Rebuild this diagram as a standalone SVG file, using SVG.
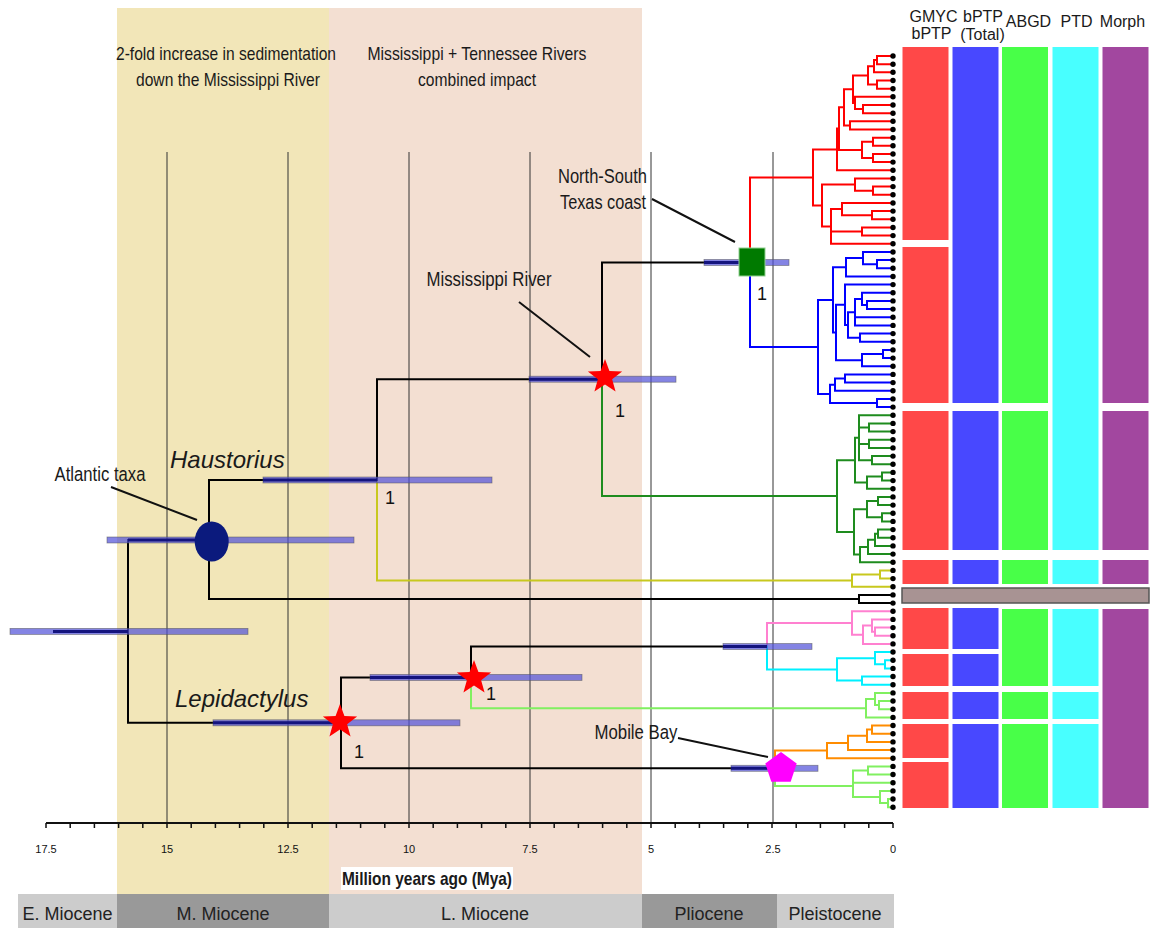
<svg xmlns="http://www.w3.org/2000/svg" width="1153" height="928" viewBox="0 0 1153 928">
<style>
.br{fill:none;stroke-width:2;stroke-linecap:square}
.grid{stroke:#333;stroke-width:1}
.hpd{fill:#5050d8;fill-opacity:0.7;stroke:#555;stroke-width:0.8;stroke-opacity:0.6}
.dk{stroke:#14147e;stroke-width:3;fill:none}
.tip{fill:#000}
.n{font-family:"Liberation Sans Narrow","Liberation Sans",Arial,sans-serif;fill:#1a1a1a}
.r{font-family:"Liberation Sans",Arial,sans-serif;fill:#1a1a1a}
.ax{font-family:"Liberation Sans",Arial,sans-serif;font-size:11px;fill:#111;text-anchor:middle}
.lead{stroke:#111;stroke-width:2;fill:none}
.one{font-family:"Liberation Sans",Arial,sans-serif;font-size:18px;fill:#111;text-anchor:middle}
.per{font-family:"Liberation Sans",Arial,sans-serif;font-size:18px;fill:#222;text-anchor:middle}
.col{font-family:"Liberation Sans",Arial,sans-serif;font-size:16px;fill:#1a1a1a;text-anchor:middle}
</style>
<defs>
<polygon id="star" points="0,-18 4.41,-6.07 17.12,-5.56 7.13,2.32 10.58,14.56 0,7.5 -10.58,14.56 -7.13,2.32 -17.12,-5.56 -4.41,-6.07" fill="#ff0000"/>
</defs>
<rect width="1153" height="928" fill="#ffffff"/>
<g id="background">
<rect x="117" y="8" width="212" height="886" fill="#f2e6b8"/>
<rect x="329" y="8" width="313" height="886" fill="#f3dfd2"/>
</g>
<g id="header-text">
<text class="n" font-size="19" text-anchor="middle" x="226" y="60" textLength="220" lengthAdjust="spacingAndGlyphs">2-fold increase in sedimentation</text>
<text class="n" font-size="19" text-anchor="middle" x="228" y="86" textLength="184" lengthAdjust="spacingAndGlyphs">down the Mississippi River</text>
<text class="n" font-size="19" text-anchor="middle" x="477" y="60" textLength="219" lengthAdjust="spacingAndGlyphs">Mississippi + Tennessee Rivers</text>
<text class="n" font-size="19" text-anchor="middle" x="477" y="86" textLength="118" lengthAdjust="spacingAndGlyphs">combined impact</text>
</g>
<g id="grid">
<path class="grid" d="M167 152V823 M288 152V823 M409 152V823 M530 152V823 M651 152V823 M773 152V823"/>
</g>
<g id="axis">
<path d="M46 823H893" stroke="#111" stroke-width="2" fill="none"/>
<path stroke="#111" stroke-width="1.5" fill="none" d="M893 823v5 M868.8 823v5 M844.6 823v5 M820.4 823v5 M796.2 823v5 M772 823v5 M747.8 823v5 M723.6 823v5 M699.4 823v5 M675.2 823v5 M651 823v5 M626.8 823v5 M602.6 823v5 M578.4 823v5 M554.2 823v5 M530 823v5 M505.8 823v5 M481.6 823v5 M457.4 823v5 M433.2 823v5 M409 823v5 M384.8 823v5 M360.6 823v5 M336.4 823v5 M312.2 823v5 M288 823v5 M263.8 823v5 M239.6 823v5 M215.4 823v5 M191.2 823v5 M167 823v5 M142.8 823v5 M118.6 823v5 M94.4 823v5 M70.2 823v5 M46 823v5"/>
<text class="ax" x="46" y="853">17.5</text>
<text class="ax" x="167" y="853">15</text>
<text class="ax" x="288" y="853">12.5</text>
<text class="ax" x="409" y="853">10</text>
<text class="ax" x="530" y="853">7.5</text>
<text class="ax" x="651" y="853">5</text>
<text class="ax" x="773" y="853">2.5</text>
<text class="ax" x="893" y="853">0</text>
<rect x="341" y="867" width="172" height="23" fill="#ffffff"/>
<text class="n" font-size="19" font-weight="bold" text-anchor="middle" x="427" y="885" textLength="170" lengthAdjust="spacingAndGlyphs">Million years ago (Mya)</text>
</g>
<g id="periods">
<rect x="18" y="894" width="99" height="34" fill="#cccccc"/>
<rect x="117" y="894" width="212" height="34" fill="#999999"/>
<rect x="329" y="894" width="313" height="34" fill="#cccccc"/>
<rect x="642" y="894" width="135" height="34" fill="#999999"/>
<rect x="777" y="894" width="117" height="34" fill="#cccccc"/>
<text class="per" x="67.5" y="920">E. Miocene</text>
<text class="per" x="223" y="920">M. Miocene</text>
<text class="per" x="485" y="920">L. Miocene</text>
<text class="per" x="709" y="920">Pliocene</text>
<text class="per" x="835" y="920">Pleistocene</text>
</g>
<g id="connectors">
<path class="br" stroke="#ff0000" d="M877 56H893 M877 64.2H893 M874 72.3H893 M877 80.5H893 M877 88.7H893 M855 96.8H893 M863 105H893 M863 113.2H893 M850 121.3H893 M850 129.5H893 M873 137.7H893 M873 145.8H893 M873 154H893 M873 162.1H893 M837 170.3H893 M855 178.5H893 M873 186.6H893 M873 194.8H893 M842 203H893 M872 211.1H893 M872 219.3H893 M862 227.5H893 M862 235.6H893 M831 243.8H893 M877 56V64.2 M874 60.1H877 M874 60.1V72.3 M868 66.2H874 M877 80.5V88.7 M868 84.6H877 M868 66.2V84.6 M853 75.4H868 M863 105V113.2 M855 109.1H863 M855 96.8V109.1 M853 103H855 M853 75.4V103 M844 89.2H853 M850 121.3V129.5 M844 125.4H850 M844 89.2V125.4 M839 107.3H844 M873 137.7V145.8 M862 141.8H873 M873 154V162.1 M862 158H873 M862 141.8V158 M839 149.9H862 M839 107.3V149.9 M837 128.6H839 M837 128.6V170.3 M813 149.5H837 M873 186.6V194.8 M855 190.7H873 M855 178.5V190.7 M822 184.6H855 M872 211.1V219.3 M842 215.2H872 M842 203V215.2 M831 209.1H842 M862 227.5V235.6 M831 231.6H862 M831 209.1V243.8 M822 226.5H831 M822 184.6V226.5 M813 205.5H822 M813 149.5V205.5 M750 177.5H813 M750 177.5V262.5"/>
<path class="br" stroke="#0000ff" d="M863 252H893 M877 260.1H893 M877 268.3H893 M846 276.5H893 M845 284.6H893 M862 292.8H893 M867 300.9H893 M867 309.1H893 M855 317.3H893 M855 325.4H893 M860 333.6H893 M860 341.8H893 M883 349.9H893 M883 358.1H893 M862 366.3H893 M845 374.4H893 M845 382.6H893 M835 390.8H893 M877 398.9H893 M877 407.1H893 M877 260.1V268.3 M863 264.2H877 M863 252V264.2 M846 258.1H863 M846 258.1V276.5 M833 267.3H846 M867 300.9V309.1 M862 305H867 M862 292.8V305 M855 298.9H862 M855 298.9V325.4 M848 312.2H855 M860 333.6V341.8 M848 337.7H860 M848 312.2V337.7 M845 325H848 M845 284.6V325 M836 304.8H845 M883 349.9V358.1 M862 354H883 M862 354V366.3 M836 360.2H862 M836 304.8V360.2 M833 332.5H836 M833 267.3V332.5 M818 299.9H833 M845 374.4V382.6 M835 378.5H845 M835 378.5V390.8 M830 384.7H835 M877 398.9V407.1 M830 403H877 M830 384.7V403 M818 393.9H830 M818 299.9V393.9 M750 347H818 M750 262.5V347"/>
<path class="br" stroke="#1e8c1e" d="M859 415.3H893 M869 423.4H893 M869 431.6H893 M869 439.8H893 M869 447.9H893 M872 456.1H893 M872 464.3H893 M882 472.4H893 M882 480.6H893 M867 488.7H893 M878 496.9H893 M878 505.1H893 M882 513.2H893 M882 521.4H893 M878 529.6H893 M878 537.7H893 M875 545.9H893 M868 554.1H893 M860 562.2H893 M869 423.4V431.6 M859 427.5H869 M869 439.8V447.9 M859 443.9H869 M872 456.1V464.3 M859 460.2H872 M859 415.3V460.2 M855 437.8H859 M882 472.4V480.6 M867 476.5H882 M867 476.5V488.7 M855 482.6H867 M855 437.8V482.6 M837 460.2H855 M878 496.9V505.1 M867 501H878 M882 513.2V521.4 M867 517.3H882 M867 501V517.3 M854 509.2H867 M878 529.6V537.7 M875 533.7H878 M875 533.7V545.9 M868 539.8H875 M868 539.8V554.1 M860 547H868 M860 547V562.2 M854 554.6H860 M854 509.2V554.6 M837 531.9H854 M837 460.2V531.9 M602 496H837 M602 379.2V496"/>
<path class="br" stroke="#c8c81e" d="M880 570.4H893 M880 578.6H893 M852 586.7H893 M880 570.4V578.6 M852 574.5H880 M852 574.5V586.7 M377 580.6H852 M377 480V580.6"/>
<path class="br" stroke="#000000" d="M859 594.9H893 M859 603.1H893 M859 594.9V603.1 M209 599H859 M209 480V599 M128 540H209 M209 480H377 M377 379.2V480 M377 379.2H602 M602 262.5V379.2 M602 262.5H750 M128 540V722.8 M128 722.8H341 M341 677.4V768.3 M341 677.4H471 M471 646.5V677.4 M471 646.5H767 M341 768.3H775"/>
<path class="br" stroke="#ff80d0" d="M852 611.2H893 M872 619.4H893 M875 627.6H893 M875 635.7H893 M863 643.9H893 M875 627.6V635.7 M872 631.7H875 M872 619.4V631.7 M863 625.5H872 M863 625.5V643.9 M852 634.7H863 M852 611.2V634.7 M767 623H852 M767 623V646.5"/>
<path class="br" stroke="#00f0ff" d="M875 652H893 M885 660.2H893 M885 668.4H893 M862 676.5H893 M862 684.7H893 M885 660.2V668.4 M875 664.3H885 M875 652V664.3 M837 658.2H875 M862 676.5V684.7 M837 680.6H862 M837 658.2V680.6 M767 669.4H837 M767 646.5V669.4"/>
<path class="br" stroke="#80f060" d="M875 692.9H893 M879 701H893 M879 709.2H893 M866 717.4H893 M879 701V709.2 M875 705.1H879 M875 692.9V705.1 M866 699H875 M866 699V717.4 M471 708.2H866 M471 677.4V708.2 M868 766.4H893 M868 774.5H893 M853 782.7H893 M880 790.9H893 M888 799H893 M888 807.2H893 M868 766.4V774.5 M853 770.5H868 M888 799V807.2 M880 803.1H888 M880 790.9V803.1 M853 797H880 M853 770.5V797 M775 786H853 M775 768.3V786"/>
<path class="br" stroke="#ff8c00" d="M872 725.5H893 M872 733.7H893 M867 741.9H893 M848 750H893 M827 758.2H893 M872 725.5V733.7 M867 729.6H872 M867 729.6V741.9 M848 735.8H867 M848 735.8V750 M827 742.9H848 M827 742.9V758.2 M775 750.6H827 M775 750.6V768.3"/>
</g>
<g id="hpd-bars">
<rect class="hpd" x="10" y="628.4" width="238" height="6"/>
<rect class="hpd" x="107" y="537" width="247" height="6"/>
<rect class="hpd" x="263" y="477" width="229" height="6"/>
<rect class="hpd" x="529" y="376.2" width="147" height="6"/>
<rect class="hpd" x="704" y="259.5" width="85" height="6"/>
<rect class="hpd" x="213" y="719.8" width="247" height="6"/>
<rect class="hpd" x="370" y="674.4" width="212" height="6"/>
<rect class="hpd" x="723" y="643.5" width="89" height="6"/>
<rect class="hpd" x="731" y="765.3" width="87" height="6"/>
<path class="dk" d="M53 631.4H128 M128 540H209 M263 480H377 M529 379.2H602 M704 262.5H750 M213 722.8H341 M370 677.4H471 M723 646.5H767 M731 768.3H775"/>
</g>
<g id="tips">
<circle class="tip" cx="893" cy="56" r="2.7"/><circle class="tip" cx="893" cy="64.2" r="2.7"/><circle class="tip" cx="893" cy="72.3" r="2.7"/><circle class="tip" cx="893" cy="80.5" r="2.7"/><circle class="tip" cx="893" cy="88.7" r="2.7"/><circle class="tip" cx="893" cy="96.8" r="2.7"/><circle class="tip" cx="893" cy="105" r="2.7"/><circle class="tip" cx="893" cy="113.2" r="2.7"/><circle class="tip" cx="893" cy="121.3" r="2.7"/><circle class="tip" cx="893" cy="129.5" r="2.7"/>
<circle class="tip" cx="893" cy="137.7" r="2.7"/><circle class="tip" cx="893" cy="145.8" r="2.7"/><circle class="tip" cx="893" cy="154" r="2.7"/><circle class="tip" cx="893" cy="162.1" r="2.7"/><circle class="tip" cx="893" cy="170.3" r="2.7"/><circle class="tip" cx="893" cy="178.5" r="2.7"/><circle class="tip" cx="893" cy="186.6" r="2.7"/><circle class="tip" cx="893" cy="194.8" r="2.7"/><circle class="tip" cx="893" cy="203" r="2.7"/><circle class="tip" cx="893" cy="211.1" r="2.7"/>
<circle class="tip" cx="893" cy="219.3" r="2.7"/><circle class="tip" cx="893" cy="227.5" r="2.7"/><circle class="tip" cx="893" cy="235.6" r="2.7"/><circle class="tip" cx="893" cy="243.8" r="2.7"/><circle class="tip" cx="893" cy="252" r="2.7"/><circle class="tip" cx="893" cy="260.1" r="2.7"/><circle class="tip" cx="893" cy="268.3" r="2.7"/><circle class="tip" cx="893" cy="276.5" r="2.7"/><circle class="tip" cx="893" cy="284.6" r="2.7"/><circle class="tip" cx="893" cy="292.8" r="2.7"/>
<circle class="tip" cx="893" cy="300.9" r="2.7"/><circle class="tip" cx="893" cy="309.1" r="2.7"/><circle class="tip" cx="893" cy="317.3" r="2.7"/><circle class="tip" cx="893" cy="325.4" r="2.7"/><circle class="tip" cx="893" cy="333.6" r="2.7"/><circle class="tip" cx="893" cy="341.8" r="2.7"/><circle class="tip" cx="893" cy="349.9" r="2.7"/><circle class="tip" cx="893" cy="358.1" r="2.7"/><circle class="tip" cx="893" cy="366.3" r="2.7"/><circle class="tip" cx="893" cy="374.4" r="2.7"/>
<circle class="tip" cx="893" cy="382.6" r="2.7"/><circle class="tip" cx="893" cy="390.8" r="2.7"/><circle class="tip" cx="893" cy="398.9" r="2.7"/><circle class="tip" cx="893" cy="407.1" r="2.7"/><circle class="tip" cx="893" cy="415.3" r="2.7"/><circle class="tip" cx="893" cy="423.4" r="2.7"/><circle class="tip" cx="893" cy="431.6" r="2.7"/><circle class="tip" cx="893" cy="439.8" r="2.7"/><circle class="tip" cx="893" cy="447.9" r="2.7"/><circle class="tip" cx="893" cy="456.1" r="2.7"/>
<circle class="tip" cx="893" cy="464.3" r="2.7"/><circle class="tip" cx="893" cy="472.4" r="2.7"/><circle class="tip" cx="893" cy="480.6" r="2.7"/><circle class="tip" cx="893" cy="488.7" r="2.7"/><circle class="tip" cx="893" cy="496.9" r="2.7"/><circle class="tip" cx="893" cy="505.1" r="2.7"/><circle class="tip" cx="893" cy="513.2" r="2.7"/><circle class="tip" cx="893" cy="521.4" r="2.7"/><circle class="tip" cx="893" cy="529.6" r="2.7"/><circle class="tip" cx="893" cy="537.7" r="2.7"/>
<circle class="tip" cx="893" cy="545.9" r="2.7"/><circle class="tip" cx="893" cy="554.1" r="2.7"/><circle class="tip" cx="893" cy="562.2" r="2.7"/><circle class="tip" cx="893" cy="570.4" r="2.7"/><circle class="tip" cx="893" cy="578.6" r="2.7"/><circle class="tip" cx="893" cy="586.7" r="2.7"/><circle class="tip" cx="893" cy="594.9" r="2.7"/><circle class="tip" cx="893" cy="603.1" r="2.7"/><circle class="tip" cx="893" cy="611.2" r="2.7"/><circle class="tip" cx="893" cy="619.4" r="2.7"/>
<circle class="tip" cx="893" cy="627.6" r="2.7"/><circle class="tip" cx="893" cy="635.7" r="2.7"/><circle class="tip" cx="893" cy="643.9" r="2.7"/><circle class="tip" cx="893" cy="652" r="2.7"/><circle class="tip" cx="893" cy="660.2" r="2.7"/><circle class="tip" cx="893" cy="668.4" r="2.7"/><circle class="tip" cx="893" cy="676.5" r="2.7"/><circle class="tip" cx="893" cy="684.7" r="2.7"/><circle class="tip" cx="893" cy="692.9" r="2.7"/><circle class="tip" cx="893" cy="701" r="2.7"/>
<circle class="tip" cx="893" cy="709.2" r="2.7"/><circle class="tip" cx="893" cy="717.4" r="2.7"/><circle class="tip" cx="893" cy="725.5" r="2.7"/><circle class="tip" cx="893" cy="733.7" r="2.7"/><circle class="tip" cx="893" cy="741.9" r="2.7"/><circle class="tip" cx="893" cy="750" r="2.7"/><circle class="tip" cx="893" cy="758.2" r="2.7"/><circle class="tip" cx="893" cy="766.4" r="2.7"/><circle class="tip" cx="893" cy="774.5" r="2.7"/><circle class="tip" cx="893" cy="782.7" r="2.7"/>
<circle class="tip" cx="893" cy="790.9" r="2.7"/><circle class="tip" cx="893" cy="799" r="2.7"/><circle class="tip" cx="893" cy="807.2" r="2.7"/>
</g>
<g id="node-atlantic">
<ellipse cx="211.7" cy="541.5" rx="17" ry="20" fill="#0b1a7d"/>
</g>
<g id="node-mississippi">
<use href="#star" x="605" y="377"/>
</g>
<g id="node-lepidactylus-1">
<use href="#star" x="474" y="678"/>
</g>
<g id="node-lepidactylus-root">
<use href="#star" x="340" y="722"/>
</g>
<g id="node-texas">
<rect x="739" y="248" width="26" height="28" fill="#007a00" stroke="#8fcf8f" stroke-width="1"/>
</g>
<g id="node-mobile">
<polygon transform="translate(781,768.5)" points="0,-16.5 15.69,-5.1 9.7,13.35 -9.7,13.35 -15.69,-5.1" fill="#ff00ff"/>
</g>
<g id="support-labels">
<text class="one" x="762" y="300">1</text>
<text class="one" x="620" y="417">1</text>
<text class="one" x="390" y="504">1</text>
<text class="one" x="491" y="700">1</text>
<text class="one" x="359" y="758">1</text>
</g>
<g id="annotations">
<path class="lead" d="M111 487L197 520 M519 302L590 357 M652 199L735 242 M678 738L768 757"/>
<text class="n" font-size="20.5" text-anchor="middle" x="100" y="481" textLength="91" lengthAdjust="spacingAndGlyphs">Atlantic taxa</text>
<text class="n" font-size="20.5" text-anchor="middle" x="489" y="286" textLength="125" lengthAdjust="spacingAndGlyphs">Mississippi River</text>
<text class="n" font-size="20.5" text-anchor="end" x="647" y="183" textLength="89" lengthAdjust="spacingAndGlyphs">North-South</text>
<text class="n" font-size="20.5" text-anchor="end" x="646" y="209" textLength="86" lengthAdjust="spacingAndGlyphs">Texas coast</text>
<text class="n" font-size="20.5" text-anchor="middle" x="636" y="739" textLength="83" lengthAdjust="spacingAndGlyphs">Mobile Bay</text>
<text class="r" font-size="24" font-style="italic" x="170" y="468">Haustorius</text>
<text class="r" font-size="24" font-style="italic" x="175" y="707">Lepidactylus</text>
</g>
<g id="delimitation">
<g fill="#ff4848">
<rect x="902.5" y="47" width="46" height="193"/>
<rect x="902.5" y="247" width="46" height="156"/>
<rect x="902.5" y="411" width="46" height="139"/>
<rect x="902.5" y="560" width="46" height="24"/>
<rect x="902.5" y="608" width="46" height="41"/>
<rect x="902.5" y="654" width="46" height="32"/>
<rect x="902.5" y="692" width="46" height="27"/>
<rect x="902.5" y="724" width="46" height="34"/>
<rect x="902.5" y="762" width="46" height="46"/>
</g>
<g fill="#4848ff">
<rect x="952.5" y="47" width="46" height="356"/>
<rect x="952.5" y="411" width="46" height="139"/>
<rect x="952.5" y="560" width="46" height="24"/>
<rect x="952.5" y="608" width="46" height="41"/>
<rect x="952.5" y="654" width="46" height="32"/>
<rect x="952.5" y="692" width="46" height="27"/>
<rect x="952.5" y="724" width="46" height="84"/>
</g>
<g fill="#48ff48">
<rect x="1002" y="47" width="46" height="356"/>
<rect x="1002" y="411" width="46" height="139"/>
<rect x="1002" y="560" width="46" height="24"/>
<rect x="1002" y="609" width="46" height="77"/>
<rect x="1002" y="692" width="46" height="27"/>
<rect x="1002" y="724" width="46" height="84"/>
</g>
<g fill="#48ffff">
<rect x="1052.5" y="47" width="46" height="503"/>
<rect x="1052.5" y="560" width="46" height="24"/>
<rect x="1052.5" y="609" width="46" height="77"/>
<rect x="1052.5" y="692" width="46" height="27"/>
<rect x="1052.5" y="724" width="46" height="84"/>
</g>
<g fill="#a2479f">
<rect x="1102.5" y="47" width="46" height="356"/>
<rect x="1102.5" y="411" width="46" height="139"/>
<rect x="1102.5" y="560" width="46" height="24"/>
<rect x="1102.5" y="609" width="46" height="199"/>
</g>
<rect x="902" y="588" width="247" height="15" fill="#a89393" stroke="#555" stroke-width="1.5"/>
</g>
<g id="column-headers">
<text class="col" x="933.5" y="22">GMYC</text>
<text class="col" x="931.5" y="39">bPTP</text>
<text class="col" x="983" y="22">bPTP</text>
<text class="col" x="982.5" y="40">(Total)</text>
<text class="col" x="1028.5" y="27">ABGD</text>
<text class="col" x="1076.5" y="27">PTD</text>
<text class="col" x="1122.5" y="27">Morph</text>
</g>
</svg>
